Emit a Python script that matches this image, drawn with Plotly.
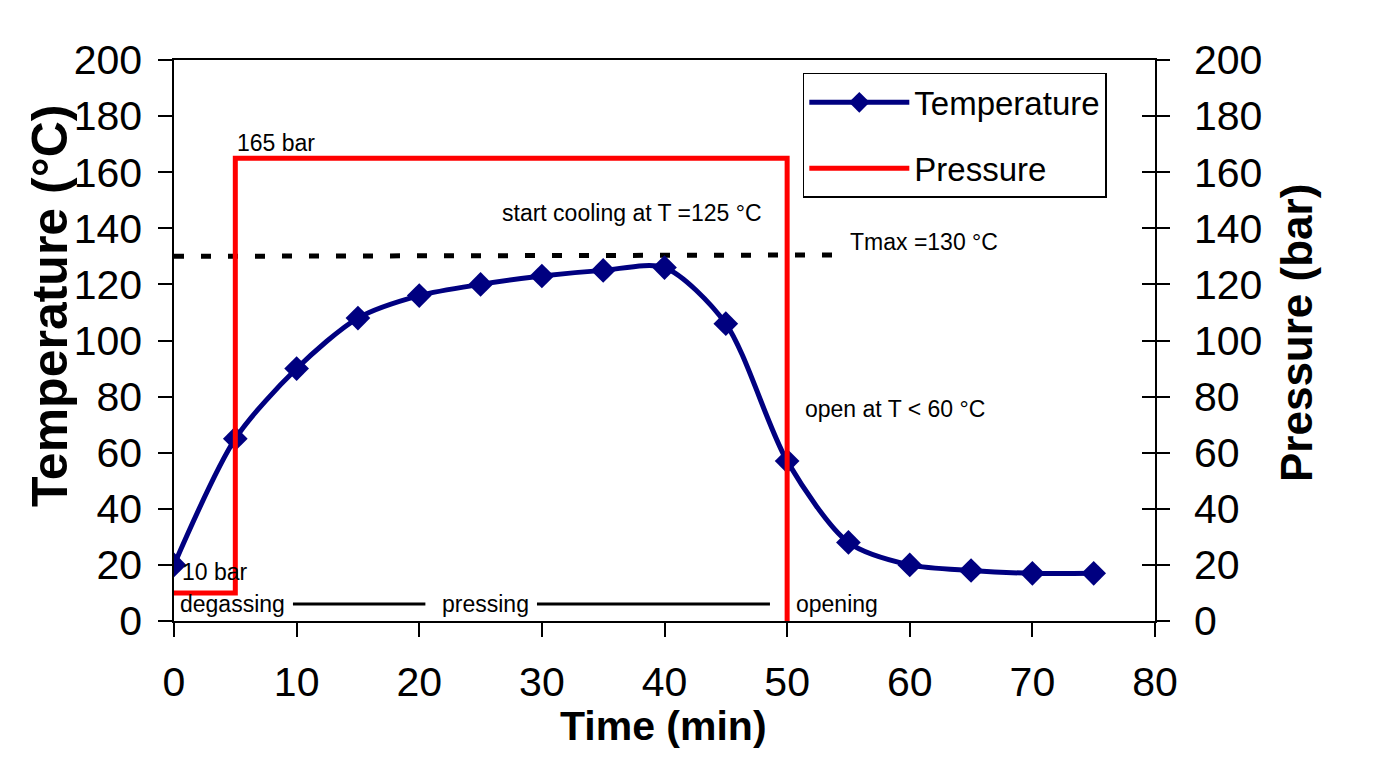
import plotly.graph_objects as go

# ---- data ----
time_min = [0, 5, 10, 15, 20, 25, 30, 35, 40, 45, 50, 55, 60, 65, 70, 75]
temperature_c = [20, 65, 90, 108, 116, 120, 123, 125, 126, 106, 57, 28, 20, 18, 17, 17]

pressure_time = [0, 5, 5, 50, 50]
pressure_bar = [10, 10, 165, 165, 0]

tmax_time = [0, 54]
tmax_value = [130, 130.5]

x_ticks = [0, 10, 20, 30, 40, 50, 60, 70, 80]
y_ticks = [0, 20, 40, 60, 80, 100, 120, 140, 160, 180, 200]

# annotations: (text, x, y)
notes = [
    ("10 bar", 0.5, 17.5),
    ("165 bar", 5.0, 170.5),
    ("start cooling at T =125 °C", 26.6, 145.5),
    ("Tmax =130 °C", 55.0, 135.0),
    ("open at T < 60 °C", 51.3, 75.6),
    ("degassing", 0.3, 6.2),
    ("pressing", 21.7, 6.2),
    ("opening", 50.6, 6.2),
]
phase_lines_x = [(9.7, 20.5), (29.6, 48.6)]
phase_line_y = 6.1

FONT = "Liberation Sans, Arial, sans-serif"

fig = go.Figure()

fig.add_trace(go.Scatter(
    x=tmax_time, y=tmax_value, mode="lines",
    line=dict(color="black", width=5, dash="10px,17px"),
    showlegend=False, hoverinfo="skip"))

fig.add_trace(go.Scatter(
    x=time_min, y=temperature_c, mode="lines+markers", name="Temperature",
    line=dict(color="#000080", width=5, shape="spline", smoothing=0.8),
    marker=dict(symbol="diamond", size=19, color="#000080"),
    legendgroup="t"))

fig.add_trace(go.Scatter(
    x=pressure_time, y=pressure_bar, mode="lines", name="Pressure",
    line=dict(color="#ff0000", width=5), yaxis="y2",
    legendgroup="p"))

fig.add_trace(go.Scatter(x=[], y=[], yaxis="y3", showlegend=False))

for x0, x1 in phase_lines_x:
    fig.add_shape(type="line", x0=x0, x1=x1, y0=phase_line_y, y1=phase_line_y,
                  xref="x", yref="y", line=dict(color="black", width=3))

for text, x, y in notes:
    fig.add_annotation(text=text, x=x, y=y, xref="x", yref="y",
                       xanchor="left", yanchor="middle", showarrow=False,
                       font=dict(family=FONT, size=23, color="black"))

fig.add_annotation(text="<b>Temperature (°C)</b>", xref="paper", yref="paper",
                   x=-0.1264, y=0.5615, textangle=-90, showarrow=False,
                   xanchor="center", yanchor="middle",
                   font=dict(family=FONT, size=50, color="black"))
fig.add_annotation(text="<b>Pressure (bar)</b>", xref="paper", yref="paper",
                   x=1.1448, y=0.5134, textangle=-90, showarrow=False,
                   xanchor="center", yanchor="middle",
                   font=dict(family=FONT, size=44, color="black"))
fig.add_annotation(text="<b>Time (min)</b>", xref="paper", yref="paper",
                   x=0.4985, y=-0.187, showarrow=False,
                   xanchor="center", yanchor="middle",
                   font=dict(family=FONT, size=41, color="black"))

axis_font = dict(family=FONT, size=41, color="black")

fig.update_layout(
    width=1377, height=773,
    margin=dict(l=174, r=222, t=60, b=152, autoexpand=False),
    paper_bgcolor="white", plot_bgcolor="white",
    font=dict(family=FONT, color="black"),
    xaxis=dict(range=[0, 80], tickvals=x_ticks, showgrid=False, zeroline=False,
               showline=True, linecolor="black", linewidth=1.5, mirror=True,
               ticks="outside", ticklen=14, tickwidth=1.5, tickcolor="black",
               tickfont=axis_font, ticklabelstandoff=10, automargin=False),
    yaxis=dict(range=[0, 200], tickvals=y_ticks, showgrid=False, zeroline=False,
               showline=True, linecolor="black", linewidth=1.5,
               ticks="outside", ticklen=14, tickwidth=1.5, tickcolor="black",
               tickfont=axis_font, ticklabelstandoff=8, automargin=False),
    yaxis2=dict(range=[0, 200], tickvals=y_ticks, showgrid=False, zeroline=False,
                overlaying="y", side="right", anchor="x",
                showline=True, linecolor="black", linewidth=1.5,
                ticks="outside", ticklen=13, tickwidth=1.5, tickcolor="black",
                tickfont=axis_font, ticklabelstandoff=16, automargin=False),
    yaxis3=dict(range=[0, 200], tickvals=y_ticks, showgrid=False, zeroline=False,
                overlaying="y", side="right", anchor="x", showticklabels=False,
                showline=False, ticks="inside", ticklen=13, tickwidth=1.5,
                tickcolor="black", automargin=False),
    legend=dict(x=0.641, y=0.977, xanchor="left", yanchor="top",
                bgcolor="white", bordercolor="black", borderwidth=1.5,
                font=dict(family=FONT, size=33, color="black"),
                traceorder="grouped", tracegroupgap=20,
                itemwidth=100),
    showlegend=True,
)

fig.write_html("out.html", config={"displayModeBar": False},
               post_script="document.body.style.margin='0';document.body.style.padding='0';")
